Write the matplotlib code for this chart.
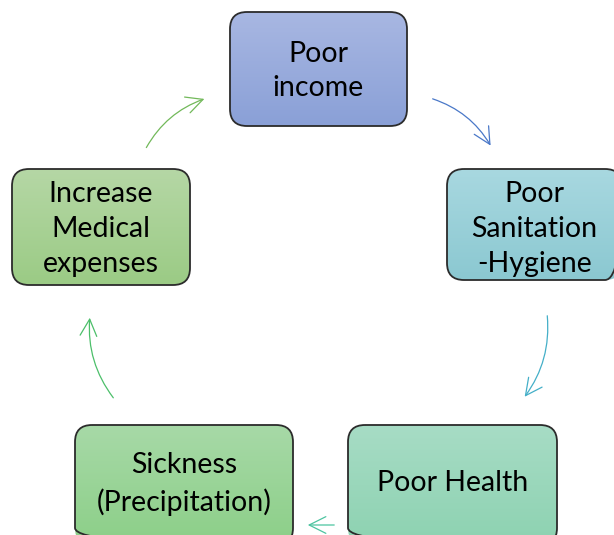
import numpy as np
import matplotlib.pyplot as plt
from matplotlib.patches import FancyBboxPatch, FancyArrowPatch
from matplotlib.colors import LinearSegmentedColormap

plt.rcParams['font.family'] = ['Lato', 'DejaVu Sans']

# cycle steps (clockwise from top)
labels = ['Poor\nincome', 'Poor\nSanitation\n-Hygiene', 'Poor Health',
          'Sickness\n(Precipitation)', 'Increase\nMedical\nexpenses']
top_colors = ['#a8b7e2', '#a8d8e0', '#a7dcc5', '#a7d9a7', '#b5d7a5']
bottom_colors = ['#8aa0d7', '#8bc8d1', '#8dd2b1', '#8ccf88', '#9bcb85']
arrow_colors = ['#4a78c8', '#44afc8', '#4cc4a0', '#4cbf6a', '#72b95a']

# box layout in pixels: left, top, right, bottom
boxes = [(230, 12, 407, 126), (447, 169, 622, 280), (348, 425, 557, 545),
         (75, 425, 293, 545), (12, 169, 190, 285)]
text_y = [71, 229, 483, 484, 229]
# arrows: start, end, curvature
arrows = [((430, 98), (492, 148), -0.2), ((547, 313), (523, 399), -0.2),
          ((337, 525), (305, 525), 0.0), ((115, 400), (90, 315), -0.2),
          ((145, 150), (207, 98), -0.2)]

fig = plt.figure(figsize=(6.14, 5.35), dpi=100)
ax = fig.add_axes([0, 0, 1, 1])
ax.set_xlim(0, 614)
ax.set_ylim(535, 0)
ax.axis('off')

for (x0, y0, x1, y1), lab, ty, c0, c1 in zip(boxes, labels, text_y, top_colors, bottom_colors):
    patch = FancyBboxPatch((x0, y0), x1 - x0, y1 - y0,
                           boxstyle='round,pad=0,rounding_size=17',
                           facecolor='none', edgecolor='#2b2b2b', lw=1.3, zorder=3)
    ax.add_patch(patch)
    cmap = LinearSegmentedColormap.from_list('g', [c0, c1])
    grad = np.linspace(0, 1, 100).reshape(-1, 1)
    im = ax.imshow(grad, cmap=cmap, extent=(x0, x1, y1, y0), aspect='auto', zorder=2)
    im.set_clip_path(patch)
    ax.text((x0 + x1) / 2, ty, lab, ha='center', va='center', fontsize=20.5,
            color='black', linespacing=1.42, zorder=4)

for (p0, p1, rad), col in zip(arrows, arrow_colors):
    arr = FancyArrowPatch(p0, p1, connectionstyle=f'arc3,rad={rad}',
                          arrowstyle='->,head_length=12,head_width=6',
                          color=col, lw=0.9, mutation_scale=1, zorder=1)
    ax.add_patch(arr)

ax.set_xlim(0, 614)
ax.set_ylim(535, 0)
fig.savefig('out.png', dpi=100)
